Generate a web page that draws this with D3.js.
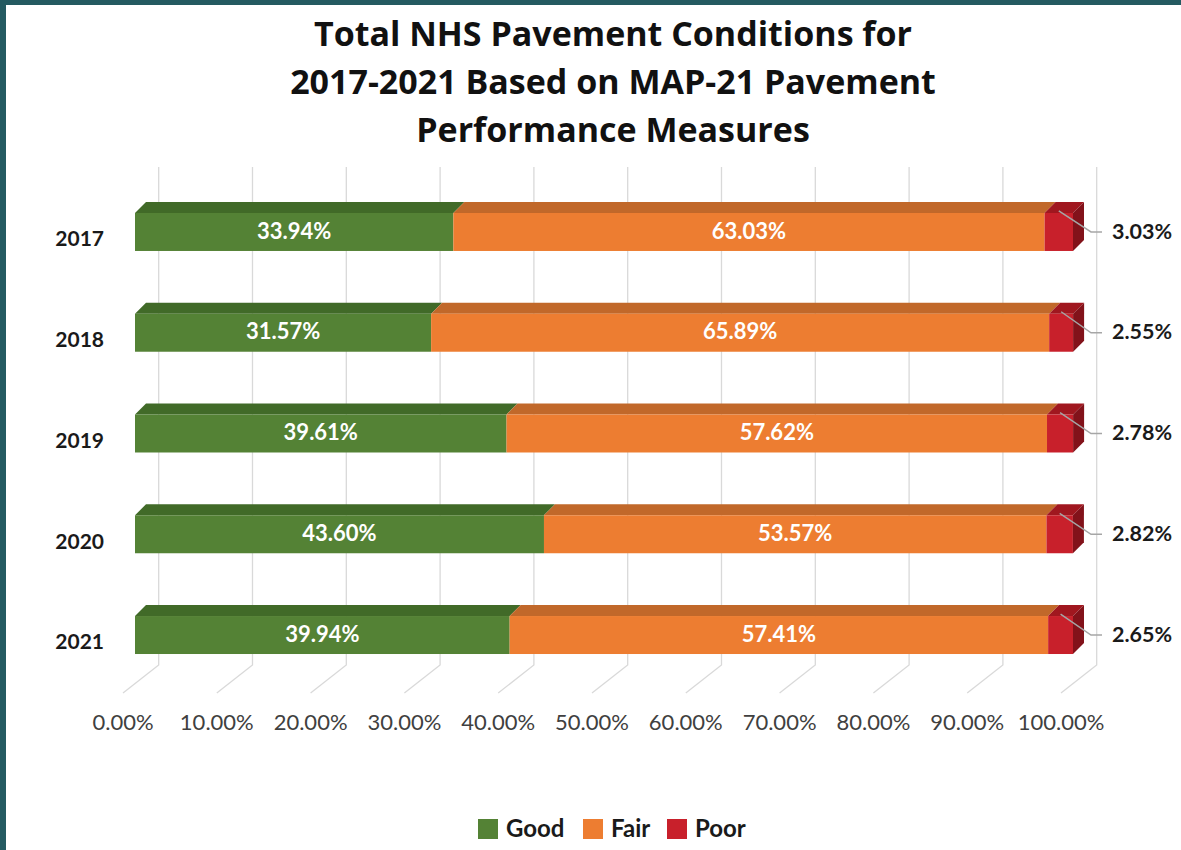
<!DOCTYPE html>
<html>
<head>
<meta charset="utf-8">
<style>
  body { margin: 0; background: #fff; }
  svg { display: block; font-family: Lato, "Open Sans", sans-serif; }
  .cat { font-size: 21px; font-weight: bold; fill: #1a1a1a; }
  .tick { font-size: 22px; fill: #404040; }
  .inside { font-size: 22px; font-weight: bold; fill: #fff; }
  .outside { font-size: 21.5px; font-weight: bold; fill: #1a1a1a; }
  .title { font-family: "Open Sans", Lato, sans-serif; font-size: 34px; font-weight: bold; fill: #111; }
  .legend text { font-size: 24px; font-weight: bold; fill: #1a1a1a; }
</style>
<script src="https://cdn.jsdelivr.net/npm/d3@7"></script>
</head>
<body>
<script>
const years = ['2017', '2018', '2019', '2020', '2021'];
const good = [33.94, 31.57, 39.61, 43.60, 39.94];
const fair = [63.03, 65.89, 57.62, 53.57, 57.41];
const poor = [3.03, 2.55, 2.78, 2.82, 2.65];
const series = ['Good', 'Fair', 'Poor'];
const ticks = [0, 10, 20, 30, 40, 50, 60, 70, 80, 90, 100];
const titleLines = ['Total NHS Pavement Conditions for',
                    '2017-2021 Based on MAP-21 Pavement',
                    'Performance Measures'];

const width = 1181, height = 850;
const front = ['#548235', '#ED7D31', '#C8202B'];
const topC = ['#416a28', '#c1682a', '#a0171f'];
const sideC = '#82121a';

// depth offsets for the 3d look
const dx = 11, dy = 11;          // bar top face
const wallDx = 23.7;             // back wall vs bar front
const floorDx = -12, floorDy = 28;

const svg = d3.select('body').append('svg')
    .attr('width', width).attr('height', height);

// teal frame strips
svg.append('rect').attr('x', 0).attr('y', 0).attr('width', width).attr('height', 5).attr('fill', '#245a61');
svg.append('rect').attr('x', 0).attr('y', 0).attr('width', 6).attr('height', height).attr('fill', '#245a61');

const x = d3.scaleLinear().domain([0, 100]).range([135, 1073]);
const y = d3.scaleBand().domain(years).range([181.6, 685.4])
    .paddingInner(0.623).paddingOuter(0.3115);
const bh = y.bandwidth();

// title
svg.append('g').selectAll('text').data(titleLines).join('text')
    .attr('class', 'title')
    .attr('x', 613).attr('y', (d, i) => 46 + i * 48)
    .attr('text-anchor', 'middle')
    .text(d => d);

// gridlines: back wall + floor diagonal
const wallTop = 167, wallBottom = 665;
svg.append('g').selectAll('path').data(ticks).join('path')
    .attr('d', t => {
        const bx = x(t) + wallDx;
        return `M${bx},${wallTop}V${wallBottom}L${x(t) + floorDx},${wallBottom + floorDy}`;
    })
    .attr('fill', 'none').attr('stroke', '#d9d9d9').attr('stroke-width', 1.3);

// x tick labels
svg.append('g').selectAll('text').data(ticks).join('text')
    .attr('class', 'tick')
    .attr('x', t => x(t) + floorDx)
    .attr('y', 724)
    .attr('text-anchor', 'middle')
    .attr('dominant-baseline', 'middle')
    .text(t => t.toFixed(2) + '%');

// category labels
svg.append('g').selectAll('text').data(years).join('text')
    .attr('class', 'cat')
    .attr('x', 104)
    .attr('y', d => y(d) + bh / 2 + 9)
    .attr('text-anchor', 'end')
    .attr('dominant-baseline', 'middle')
    .text(d => d);

// stacked segments
const rows = years.map((yr, i) => {
    const vals = [good[i], fair[i], poor[i]];
    let acc = 0;
    return vals.map((v, k) => {
        const seg = { year: yr, k, v, x0: acc, x1: acc + v };
        acc += v;
        return seg;
    });
});
const segs = rows.flat();

const bars = svg.append('g');
bars.selectAll('path.top').data(segs).join('path')
    .attr('class', 'top')
    .attr('d', s => {
        const a = x(s.x0), b = x(s.x1), t = y(s.year);
        return `M${a},${t}L${a + dx},${t - dy}L${b + dx},${t - dy}L${b},${t}Z`;
    })
    .attr('fill', s => topC[s.k]);
bars.selectAll('rect.front').data(segs).join('rect')
    .attr('class', 'front')
    .attr('x', s => x(s.x0)).attr('y', s => y(s.year))
    .attr('width', s => x(s.x1) - x(s.x0)).attr('height', bh)
    .attr('fill', s => front[s.k]);
bars.selectAll('path.side').data(segs.filter(s => s.k === 2)).join('path')
    .attr('class', 'side')
    .attr('d', s => {
        const b = x(s.x1), t = y(s.year);
        return `M${b},${t}L${b + dx},${t - dy}L${b + dx},${t + bh - dy}L${b},${t + bh}Z`;
    })
    .attr('fill', sideC);

// inside labels
svg.append('g').selectAll('text').data(segs.filter(s => s.k < 2)).join('text')
    .attr('class', 'inside')
    .attr('x', s => (x(s.x0) + x(s.x1)) / 2)
    .attr('y', s => y(s.year) + bh / 2 + 1)
    .attr('text-anchor', 'middle')
    .attr('dominant-baseline', 'middle')
    .text(s => s.v.toFixed(2) + '%');

// poor labels with leader lines
const pSegs = segs.filter(s => s.k === 2);
svg.append('g').selectAll('path').data(pSegs).join('path')
    .attr('d', s => {
        const m = (x(s.x0) + x(s.x1)) / 2, t = y(s.year);
        return `M${m},${t - 2}L${x(100) + 18},${t + 19}H${x(100) + 29}`;
    })
    .attr('fill', 'none').attr('stroke', '#a6a6a6').attr('stroke-width', 1.5);
svg.append('g').selectAll('text').data(pSegs).join('text')
    .attr('class', 'outside')
    .attr('x', 1112)
    .attr('y', s => y(s.year) + 20)
    .attr('dominant-baseline', 'middle')
    .text(s => s.v.toFixed(2) + '%');

// legend
const legX = [478, 583, 667];
const leg = svg.append('g').attr('class', 'legend').selectAll('g').data(series).join('g')
    .attr('transform', (d, i) => `translate(${legX[i]},819)`);
leg.append('rect').attr('width', 20).attr('height', 20).attr('fill', (d, i) => front[i]);
leg.append('text').attr('x', 28).attr('y', 12)
    .attr('dominant-baseline', 'middle')
    .text(d => d);
</script>
</body>
</html>
